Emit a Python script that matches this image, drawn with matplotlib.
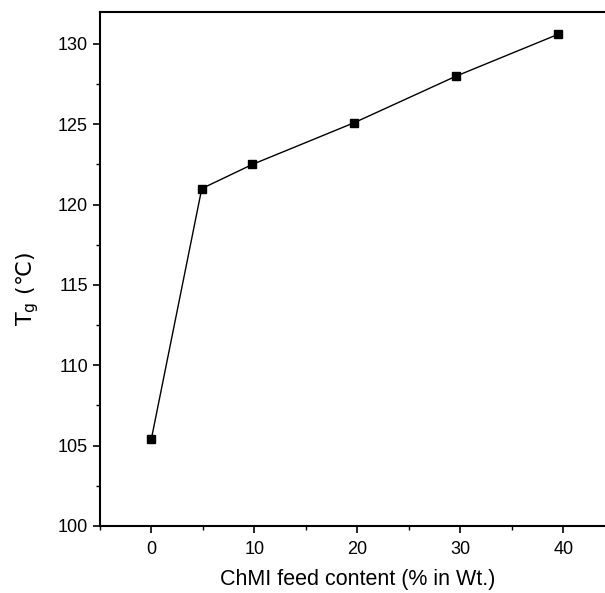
import matplotlib.pyplot as plt
from matplotlib.ticker import MultipleLocator

plt.rcParams['font.family'] = ['Liberation Sans', 'DejaVu Sans']
plt.rcParams['mathtext.default'] = 'regular'

# ChMI feed content (% in Wt.) and glass transition temperature
chmi_content = [0, 4.9, 9.8, 19.7, 29.6, 39.5]
tg_values = [105.4, 121.0, 122.5, 125.1, 128.0, 130.6]

fig = plt.figure(figsize=(6.05, 5.93), dpi=100)
# right end of the axes runs slightly past the figure edge, as in the scan
ax = fig.add_axes([0.165, 0.113, 0.851, 0.867])

ax.plot(chmi_content, tg_values, color='black', linewidth=1.0,
        marker='s', markersize=6, markerfacecolor='black', markeredgecolor='black')

ax.set_xlim(-5, 45)
ax.set_ylim(100, 132)
ax.xaxis.set_major_locator(MultipleLocator(10))
ax.xaxis.set_minor_locator(MultipleLocator(5))
ax.yaxis.set_major_locator(MultipleLocator(5))
ax.yaxis.set_minor_locator(MultipleLocator(2.5))
ax.tick_params(which='major', direction='out', length=5, width=1.2, labelsize=13)
ax.tick_params(which='minor', direction='out', length=3, width=1.0)
ax.tick_params(axis='x', pad=6)

ax.spines['right'].set_visible(False)
for side in ['left', 'bottom', 'top']:
    ax.spines[side].set_linewidth(1.5)

ax.set_xlabel('ChMI feed content (% in Wt.)', fontsize=15.5, labelpad=8)
ax.set_ylabel('T$_{g}$ (℃)', fontsize=16, family='DejaVu Sans')
ax.yaxis.set_label_coords(-0.115, 0.46)

plt.savefig('out.png', dpi=100)
